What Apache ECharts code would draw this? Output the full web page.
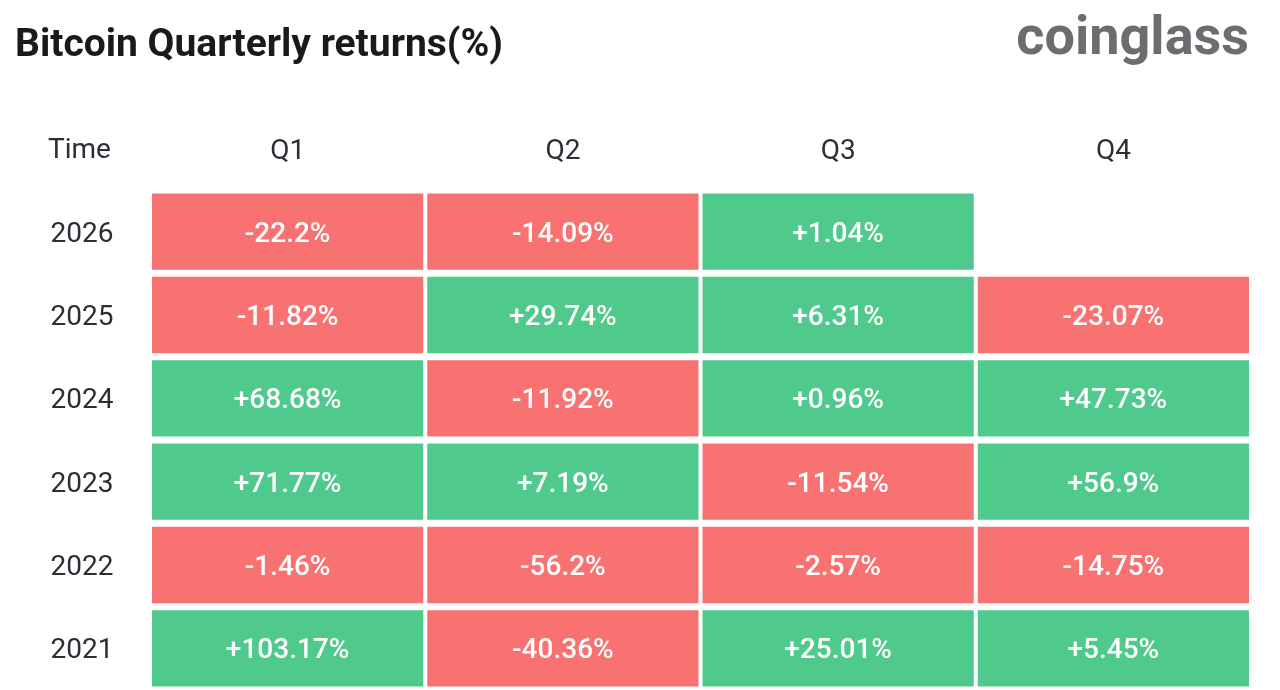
<!DOCTYPE html>
<html>
<head>
<meta charset="utf-8">
<script src="https://cdn.jsdelivr.net/npm/echarts@6/dist/echarts.min.js"></script>
<style>
  html, body { margin: 0; padding: 0; background: #fff; }
  #main { width: 1280px; height: 690px; }
</style>
</head>
<body>
<div id="main"></div>
<script>
// quarters across, years down (bottom -> top)
const quarters = ['Q1', 'Q2', 'Q3', 'Q4'];
const years = ['2021', '2022', '2023', '2024', '2025', '2026'];

// returns in %, one array per year, Q1..Q4 (null = no data yet)
const r2021 = [103.17, -40.36, 25.01, 5.45];
const r2022 = [-1.46, -56.2, -2.57, -14.75];
const r2023 = [71.77, 7.19, -11.54, 56.9];
const r2024 = [68.68, -11.92, 0.96, 47.73];
const r2025 = [-11.82, 29.74, 6.31, -23.07];
const r2026 = [-22.2, -14.09, 1.04, null];

const rows = [r2021, r2022, r2023, r2024, r2025, r2026];

const GREEN = '#4fca8c';
const RED = '#f87271';

// [quarterIndex, yearIndex, value]
var cells = [];
rows.forEach(function (row, yi) {
  row.forEach(function (v, qi) {
    if (v !== null) cells.push([qi, yi, v]);
  });
});

function fmt(v) {
  return (v > 0 ? '+' : '') + v + '%';
}

var myChart = echarts.init(document.getElementById('main'));
var option;

option = {
  animation: false,
  title: [
    {
      text: 'Bitcoin Quarterly returns(%)',
      left: 10,
      top: 22,
      textStyle: {
        fontFamily: 'Roboto',
        fontWeight: 'bold',
        fontSize: 39,
        color: '#1a1a1a'
      }
    },
    {
      text: 'coinglass',
      right: 26,
      top: 8,
      textStyle: {
        fontFamily: 'Roboto',
        fontWeight: 'bold',
        fontSize: 54,
        color: '#6b6d71'
      }
    }
  ],
  graphic: [
    {
      type: 'text',
      left: 48,
      top: 137,
      style: {
        text: 'Time',
        font: '28px Roboto',
        fill: '#2b2e34'
      }
    }
  ],
  grid: {
    left: 150,
    right: 29,
    top: 190,
    bottom: 0
  },
  xAxis: {
    type: 'category',
    data: quarters,
    position: 'top',
    axisLine: { show: false },
    axisTick: { show: false },
    splitLine: { show: false },
    axisLabel: {
      fontFamily: 'Roboto',
      fontSize: 28,
      color: '#2b2e34',
      margin: 24
    }
  },
  yAxis: {
    type: 'category',
    data: years,
    axisLine: { show: false },
    axisTick: { show: false },
    splitLine: { show: false },
    axisLabel: {
      color: '#2b2e34',
      align: 'center',
      margin: 68,
      formatter: '{y|{value}}',
      rich: {
        y: {
          fontFamily: 'Roboto',
          fontSize: 28,
          color: '#2b2e34',
          padding: [6, 0, 0, 0]
        }
      }
    }
  },
  series: [
    {
      type: 'custom',
      data: cells,
      encode: { x: 0, y: 1 },
      renderItem: function (params, api) {
        var c = api.coord([api.value(0), api.value(1)]);
        var s = api.size([1, 1]);
        var v = api.value(2);
        var w = s[0] - 4;
        var h = s[1] - 7;
        return {
          type: 'group',
          children: [
            {
              type: 'rect',
              shape: { x: c[0] - w / 2, y: c[1] - h / 2, width: w, height: h },
              style: { fill: v >= 0 ? GREEN : RED }
            },
            {
              type: 'text',
              x: c[0],
              y: c[1] + 3,
              style: {
                text: fmt(v),
                font: '500 28px Roboto',
                fill: '#ffffff',
                align: 'center',
                verticalAlign: 'middle'
              }
            }
          ]
        };
      }
    }
  ]
};

myChart.setOption(option);
</script>
</body>
</html>
